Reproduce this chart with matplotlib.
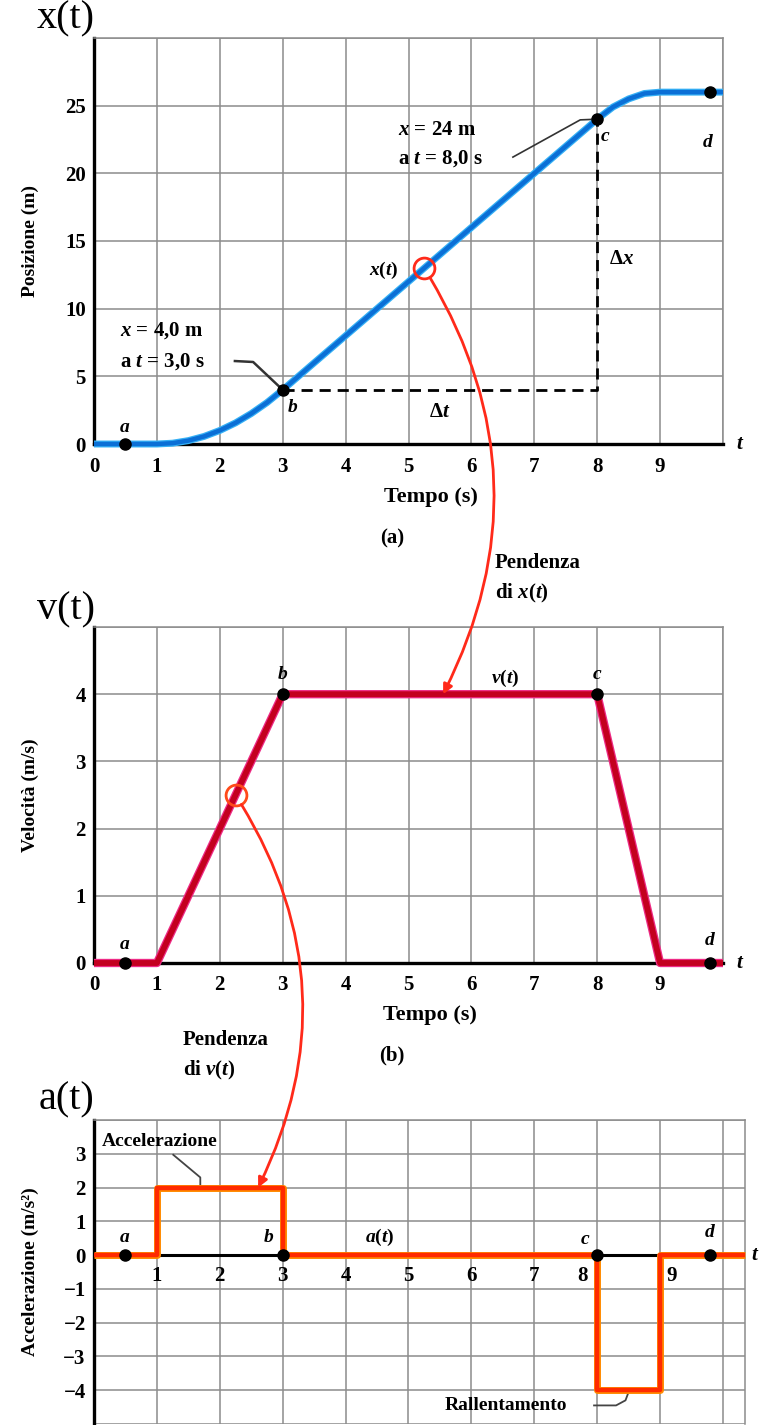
import numpy as np
import matplotlib.pyplot as plt
import matplotlib.patheffects as pe
from matplotlib.patches import ConnectionPatch

plt.rcParams['font.family'] = ['Liberation Serif', 'DejaVu Serif']
plt.rcParams['font.weight'] = 'bold'
plt.rcParams['mathtext.fontset'] = 'custom'
plt.rcParams['mathtext.it'] = 'Liberation Serif:italic:bold'
plt.rcParams['mathtext.rm'] = 'Liberation Serif:bold'
plt.rcParams['mathtext.bf'] = 'Liberation Serif:bold'

# data
t_pos = [0, 0.5, 1, 1.25, 1.5, 1.75, 2, 2.25, 2.5, 2.75, 3, 4, 5, 6, 7, 8,
         8.25, 8.5, 8.75, 9, 10]
x_pos = [0, 0, 0, 0.06, 0.25, 0.56, 1, 1.56, 2.25, 3.06, 4, 8, 12, 16, 20, 24,
         24.9, 25.5, 25.9, 26, 26]

t_vel = [0, 1, 3, 8, 9, 10]
v_vel = [0, 0, 4, 4, 0, 0]

t_acc = [0, 1, 1, 3, 3, 8, 8, 9, 9, 10.35]
a_acc = [0, 0, 2, 2, 0, 0, -4, -4, 0, 0]

pt_names = ['a', 'b', 'c', 'd']
pt_t = [0.5, 3, 8, 9.8]
pt_x = [0, 4, 24, 26]
pt_v = [0, 4, 4, 0]
pt_a = [0, 0, 0, 0]

W, H = 769, 1425
fig = plt.figure(figsize=(W / 100, H / 100), dpi=100)
fig.set_facecolor('white')


def box(x0, y0, x1, y1):
    # pixel box -> figure fraction
    return [x0 / W, 1 - y1 / H, (x1 - x0) / W, (y1 - y0) / H]


def ftext(x, y, s, **kw):
    return fig.text(x / W, 1 - y / H, s, **kw)


GRID = '#8c8c8c'
TICK_FS = 15


def setup(ax, xmax, ylo, yhi, ystep, ylabels, xlabels=True):
    ax.set_xlim(0, xmax)
    ax.set_ylim(ylo, yhi)
    ax.set_axisbelow(True)
    ax.set_xticks(np.arange(0, 11))
    if xlabels:
        ax.set_xticklabels([str(i) for i in range(10)] + [''])
    else:
        ax.set_xticklabels([])
    yt = np.arange(ylo, yhi + 0.01, ystep)
    ax.set_yticks(yt)
    ax.set_yticklabels(ylabels)
    ax.tick_params(length=0, labelsize=TICK_FS)
    ax.tick_params(axis='x', pad=9)
    ax.tick_params(axis='y', pad=6)
    ax.grid(True, color=GRID, lw=1.1)
    for s in ['top', 'right']:
        ax.spines[s].set_color(GRID)
        ax.spines[s].set_linewidth(1.1)
    ax.spines['left'].set_linewidth(2.4)
    ax.spines['bottom'].set_linewidth(2.4)


def curve(ax, t, y, core, edge, lw):
    ax.plot(t, y, color=core, lw=lw, solid_capstyle='butt', clip_on=False,
            zorder=4,
            path_effects=[pe.Stroke(linewidth=lw + 1.8, foreground=edge),
                          pe.Normal()])


def label(ax, x, y, s, **kw):
    ax.text(x, y, s, fontsize=14, fontstyle='italic', ha='center',
            va='center', zorder=6, **kw)


def ring(ax, x, y, color):
    ax.plot([x], [y], 'o', ms=15, mfc='none', mec=color, mew=2, zorder=6)


# ---------------- panel (a) ----------------
ax1 = fig.add_axes(box(94, 38, 723, 444))
setup(ax1, 10, 0, 30, 5, ['0', '5', '10', '15', '20', '25', ''])
curve(ax1, t_pos, x_pos, '#0b6fd6', '#35b0f5', 3.2)
ax1.plot(pt_t, pt_x, 'o', color='black', ms=8, zorder=5, clip_on=False)

ax1.plot([3, 8, 8], [4, 4, 24], color='black', lw=2, ls=(0, (4, 2.5)), zorder=3)
ax1.text(5.5, 2.4, 'Δ$t$', fontsize=15, ha='center', va='center')
ax1.text(8.39, 13.7, 'Δ$x$', fontsize=15, ha='center', va='center')

ax1.text(4.83, 23.2, '$x$ = 24 m', fontsize=15, ha='left', va='center')
ax1.text(4.83, 21.1, 'a $t$ = 8,0 s', fontsize=15, ha='left', va='center')
ax1.plot([6.66, 7.73, 8], [21.2, 23.95, 24], color='#333333', lw=1.2, zorder=3)

ax1.text(0.41, 8.35, '$x$ = 4,0 m', fontsize=15, ha='left', va='center')
ax1.text(0.41, 6.06, 'a $t$ = 3,0 s', fontsize=15, ha='left', va='center')
ax1.plot([2.24, 2.53, 3], [6.13, 6.06, 4], color='#333333', lw=1.8, zorder=3)

label(ax1, 0.49, 1.2, 'a')
label(ax1, 3.15, 2.7, 'b')
label(ax1, 8.12, 22.7, 'c')
label(ax1, 9.76, 22.3, 'd')
ax1.text(4.6, 12.8, '$x(t)$', fontsize=14, ha='center', va='center')
ring(ax1, 5.25, 13, '#ff2a1a')
ax1.text(10.2, 0, '$t$', fontsize=15, ha='left', va='center', clip_on=False)

# ---------------- panel (b) ----------------
ax2 = fig.add_axes(box(94, 627, 723, 963))
setup(ax2, 10, 0, 5, 1, ['0', '1', '2', '3', '4', ''])
curve(ax2, t_vel, v_vel, '#c3001f', '#ee2b86', 4.2)
ax2.plot(pt_t, pt_v, 'o', color='black', ms=8, zorder=5, clip_on=False)
label(ax2, 0.49, 0.27, 'a')
label(ax2, 3.0, 4.3, 'b')
label(ax2, 8.0, 4.3, 'c')
label(ax2, 9.79, 0.34, 'd')
ax2.text(6.53, 4.24, '$v(t)$', fontsize=14, ha='center', va='center')
ring(ax2, 2.25, 2.5, '#ff4a1a')
ax2.text(10.2, 0, '$t$', fontsize=15, ha='left', va='center', clip_on=False)

# ---------------- panel (c) ----------------
ax3 = fig.add_axes(box(94, 1120, 745, 1424))
setup(ax3, 10.35, -5, 4, 1,
      ['', '−4', '−3', '−2', '−1', '0', '1', '2', '3', ''], xlabels=False)
ax3.spines['bottom'].set_visible(False)
ax3.axhline(0, color='black', lw=2.2, zorder=3)
curve(ax3, t_acc, a_acc, '#ff2a00', '#ff8a00', 3.2)
ax3.plot(pt_t, pt_a, 'o', color='black', ms=8, zorder=5, clip_on=False)
tick_pos = [1, 2, 3, 4, 5, 6, 7, 7.76, 9.19]
for i, tp in enumerate(tick_pos):
    ax3.text(tp, -0.62, str(i + 1), fontsize=TICK_FS, ha='center', va='center')
label(ax3, 0.49, 0.53, 'a')
label(ax3, 2.77, 0.53, 'b')
label(ax3, 7.8, 0.45, 'c')
label(ax3, 9.79, 0.68, 'd')
ax3.text(4.55, 0.53, '$a(t)$', fontsize=14, ha='center', va='center')
ax3.text(0.13, 3.35, 'Accelerazione', fontsize=14, ha='left', va='center')
ax3.plot([1.26, 1.69, 1.69], [2.97, 2.3, 2.05], color='#444444', lw=1.3)
ax3.text(5.58, -4.45, 'Rallentamento', fontsize=14, ha='left', va='center')
ax3.plot([7.95, 8.3, 8.45, 8.5], [-4.45, -4.45, -4.3, -4.05],
         color='#444444', lw=1.3)
ax3.text(10.45, 0, '$t$', fontsize=15, ha='left', va='center', clip_on=False)

# ---------------- axis titles / captions ----------------
ftext(30, 241, 'Posizione (m)', fontsize=14, rotation=90, ha='center', va='center')
ftext(30, 795, 'Velocità (m/s)', fontsize=14, rotation=90, ha='center', va='center')
ftext(30, 1272, 'Accelerazione (m/s²)', fontsize=14, rotation=90,
      ha='center', va='center')

ftext(431, 497, 'Tempo (s)', fontsize=16, ha='center', va='center')
ftext(392, 538, '(a)', fontsize=15, ha='center', va='center')
ftext(430, 1015, 'Tempo (s)', fontsize=16, ha='center', va='center')
ftext(392, 1055, '(b)', fontsize=15, ha='center', va='center')

ftext(495, 563, 'Pendenza', fontsize=15, ha='left', va='center')
ftext(495, 593, 'di $x(t)$', fontsize=15, ha='left', va='center')
ftext(183, 1040, 'Pendenza', fontsize=15, ha='left', va='center')
ftext(183, 1070, 'di $v(t)$', fontsize=15, ha='left', va='center')

for y, s in [(19, 'x(t)'), (610, 'v(t)'), (1100, 'a(t)')]:
    ftext(66, y, s, fontsize=29, fontweight='normal', ha='center', va='center')

# curved slope arrows between panels
for (axA, pA), (axB, pB) in [((ax1, (5.25, 13)), (ax2, (5.55, 4))),
                             ((ax2, (2.25, 2.5)), (ax3, (2.61, 2)))]:
    con = ConnectionPatch(xyA=pA, coordsA=axA.transData, xyB=pB,
                          coordsB=axB.transData, arrowstyle='-|>',
                          connectionstyle='arc3,rad=-0.28', color='#ff2a1a',
                          lw=2, shrinkA=8, shrinkB=0, mutation_scale=14,
                          zorder=7)
    fig.add_artist(con)

fig.savefig('out.png', dpi=100)
